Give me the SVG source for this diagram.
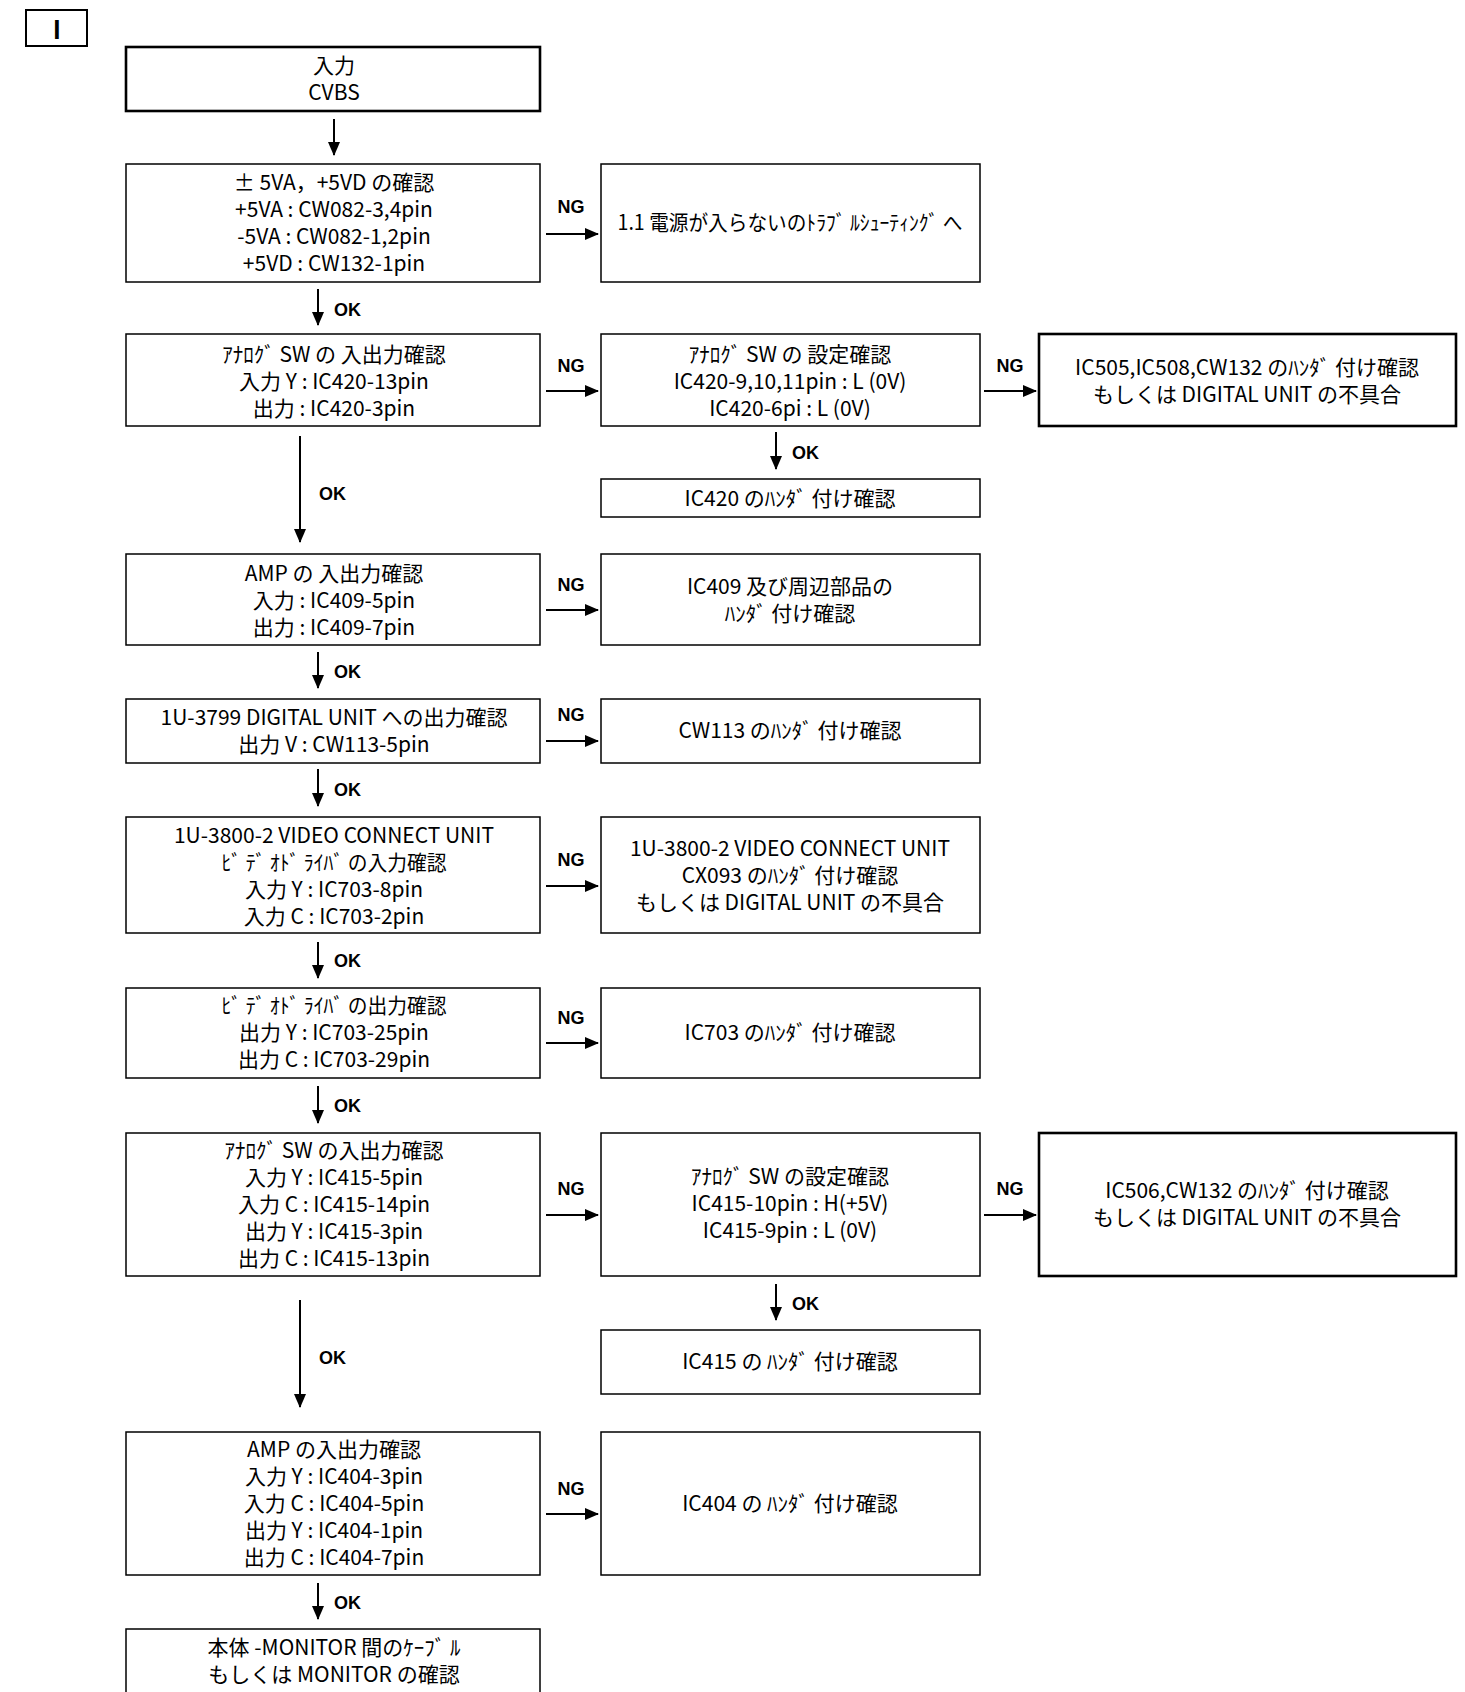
<svg xmlns="http://www.w3.org/2000/svg" width="1465" height="1692" viewBox="0 0 1465 1692">
<style>
.box{fill:#fff;stroke:#000;stroke-width:1.5}
.thick{stroke-width:2.6}
.t{font-family:"Noto Sans CJK JP","Noto Sans",sans-serif;font-size:21px;text-anchor:middle;dominant-baseline:central;fill:#000}
.lbl{font-family:"Liberation Sans",Arial,sans-serif;font-weight:bold;font-size:18px;dominant-baseline:central;fill:#000}
.ng{text-anchor:middle}
.c{stroke:#000;stroke-width:2;fill:none;marker-end:url(#ah)}
</style>
<defs>
<marker id="ah" markerUnits="userSpaceOnUse" markerWidth="14" markerHeight="12" refX="13" refY="6" orient="auto">
<path d="M0,0 L14,6 L0,12 z" fill="#000"/>
</marker>
</defs>
<rect width="1465" height="1692" fill="#fff"/>

<g id="connectors">
<line class="c" x1="334" y1="119" x2="334" y2="155"/>
<line class="c" x1="546" y1="234" x2="598" y2="234"/><text class="lbl ng" x="571" y="207">NG</text>
<line class="c" x1="318" y1="289" x2="318" y2="325"/><text class="lbl" x="334" y="310">OK</text>
<line class="c" x1="546" y1="391" x2="598" y2="391"/><text class="lbl ng" x="571" y="366">NG</text>
<line class="c" x1="984" y1="391" x2="1036" y2="391"/><text class="lbl ng" x="1010" y="366">NG</text>
<line class="c" x1="776" y1="432" x2="776" y2="469"/><text class="lbl" x="792" y="453">OK</text>
<line class="c" x1="300" y1="436" x2="300" y2="542"/><text class="lbl" x="319" y="494">OK</text>
<line class="c" x1="546" y1="610" x2="598" y2="610"/><text class="lbl ng" x="571" y="585">NG</text>
<line class="c" x1="318" y1="652" x2="318" y2="688"/><text class="lbl" x="334" y="672">OK</text>
<line class="c" x1="546" y1="741" x2="598" y2="741"/><text class="lbl ng" x="571" y="715">NG</text>
<line class="c" x1="318" y1="769" x2="318" y2="806"/><text class="lbl" x="334" y="790">OK</text>
<line class="c" x1="546" y1="886" x2="598" y2="886"/><text class="lbl ng" x="571" y="860">NG</text>
<line class="c" x1="318" y1="942" x2="318" y2="978"/><text class="lbl" x="334" y="961">OK</text>
<line class="c" x1="546" y1="1043" x2="598" y2="1043"/><text class="lbl ng" x="571" y="1018">NG</text>
<line class="c" x1="318" y1="1086" x2="318" y2="1123"/><text class="lbl" x="334" y="1106">OK</text>
<line class="c" x1="546" y1="1215" x2="598" y2="1215"/><text class="lbl ng" x="571" y="1189">NG</text>
<line class="c" x1="984" y1="1215" x2="1036" y2="1215"/><text class="lbl ng" x="1010" y="1189">NG</text>
<line class="c" x1="776" y1="1284" x2="776" y2="1320"/><text class="lbl" x="792" y="1304">OK</text>
<line class="c" x1="300" y1="1300" x2="300" y2="1407"/><text class="lbl" x="319" y="1358">OK</text>
<line class="c" x1="546" y1="1514" x2="598" y2="1514"/><text class="lbl ng" x="571" y="1489">NG</text>
<line class="c" x1="318" y1="1583" x2="318" y2="1619"/><text class="lbl" x="334" y="1603">OK</text>
</g>

<g id="n0"><rect class="box" x="26" y="10" width="61" height="36" style="stroke-width:2"/><text class="t" x="57" y="28" style="font-size:25px;font-weight:bold">I</text></g>

<g id="n1"><rect class="box thick" x="126" y="47" width="414" height="64"/>
<text class="t" x="334" y="63.5">入力</text><text class="t" x="334" y="90.5">CVBS</text></g>

<g id="n2"><rect class="box" x="126" y="164" width="414" height="118"/>
<text class="t" x="334" y="181">± 5VA，+5VD の確認</text>
<text class="t" x="334" y="208">+5VA : CW082-3,4pin</text>
<text class="t" x="334" y="235">-5VA : CW082-1,2pin</text>
<text class="t" x="334" y="262">+5VD : CW132-1pin</text></g>

<g id="n2ng"><rect class="box" x="601" y="164" width="379" height="118"/>
<text class="t" x="790" y="221" textLength="345" lengthAdjust="spacingAndGlyphs">1.1 電源が入らないのﾄﾗﾌﾞ ﾙｼｭｰﾃｨﾝｸﾞ へ</text></g>

<g id="n3"><rect class="box" x="126" y="334" width="414" height="92"/>
<text class="t" x="334" y="352.5">ｱﾅﾛｸﾞ SW の 入出力確認</text>
<text class="t" x="334" y="379.5">入力 Y : IC420-13pin</text>
<text class="t" x="334" y="406.5">出力 : IC420-3pin</text></g>

<g id="n3ng"><rect class="box" x="601" y="334" width="379" height="92"/>
<text class="t" x="790" y="352.5">ｱﾅﾛｸﾞ SW の 設定確認</text>
<text class="t" x="790" y="379.5">IC420-9,10,11pin : L (0V)</text>
<text class="t" x="790" y="406.5">IC420-6pi : L (0V)</text></g>

<g id="n3ng2"><rect class="box thick" x="1039" y="334" width="417" height="92"/>
<text class="t" x="1247" y="366">IC505,IC508,CW132 のﾊﾝﾀﾞ 付け確認</text>
<text class="t" x="1247" y="393">もしくは DIGITAL UNIT の不具合</text></g>

<g id="n3ok"><rect class="box" x="601" y="479" width="379" height="38"/>
<text class="t" x="790" y="497">IC420 のﾊﾝﾀﾞ 付け確認</text></g>

<g id="n4"><rect class="box" x="126" y="554" width="414" height="91"/>
<text class="t" x="334" y="571.5">AMP の 入出力確認</text>
<text class="t" x="334" y="598.5">入力 : IC409-5pin</text>
<text class="t" x="334" y="625.5">出力 : IC409-7pin</text></g>

<g id="n4ng"><rect class="box" x="601" y="554" width="379" height="91"/>
<text class="t" x="790" y="585">IC409 及び周辺部品の</text>
<text class="t" x="790" y="612">ﾊﾝﾀﾞ 付け確認</text></g>

<g id="n5"><rect class="box" x="126" y="699" width="414" height="64"/>
<text class="t" x="334" y="715.5">1U-3799 DIGITAL UNIT への出力確認</text>
<text class="t" x="334" y="742.5">出力 V : CW113-5pin</text></g>

<g id="n5ng"><rect class="box" x="601" y="699" width="379" height="64"/>
<text class="t" x="790" y="729">CW113 のﾊﾝﾀﾞ 付け確認</text></g>

<g id="n6"><rect class="box" x="126" y="817" width="414" height="116"/>
<text class="t" x="334" y="833.5">1U-3800-2 VIDEO CONNECT UNIT</text>
<text class="t" x="334" y="860.5" textLength="225" lengthAdjust="spacingAndGlyphs">ﾋﾞ ﾃﾞ ｵﾄﾞ ﾗｲﾊﾞ の入力確認</text>
<text class="t" x="334" y="887.5">入力 Y : IC703-8pin</text>
<text class="t" x="334" y="914.5">入力 C : IC703-2pin</text></g>

<g id="n6ng"><rect class="box" x="601" y="817" width="379" height="116"/>
<text class="t" x="790" y="846.5">1U-3800-2 VIDEO CONNECT UNIT</text>
<text class="t" x="790" y="873.5">CX093 のﾊﾝﾀﾞ 付け確認</text>
<text class="t" x="790" y="900.5">もしくは DIGITAL UNIT の不具合</text></g>

<g id="n7"><rect class="box" x="126" y="988" width="414" height="90"/>
<text class="t" x="334" y="1003.5" textLength="225" lengthAdjust="spacingAndGlyphs">ﾋﾞ ﾃﾞ ｵﾄﾞ ﾗｲﾊﾞ の出力確認</text>
<text class="t" x="334" y="1030.5">出力 Y : IC703-25pin</text>
<text class="t" x="334" y="1057.5">出力 C : IC703-29pin</text></g>

<g id="n7ng"><rect class="box" x="601" y="988" width="379" height="90"/>
<text class="t" x="790" y="1031">IC703 のﾊﾝﾀﾞ 付け確認</text></g>

<g id="n8"><rect class="box" x="126" y="1133" width="414" height="143"/>
<text class="t" x="334" y="1148.5">ｱﾅﾛｸﾞ SW の入出力確認</text>
<text class="t" x="334" y="1175.5">入力 Y : IC415-5pin</text>
<text class="t" x="334" y="1202.5">入力 C : IC415-14pin</text>
<text class="t" x="334" y="1229.5">出力 Y : IC415-3pin</text>
<text class="t" x="334" y="1256.5">出力 C : IC415-13pin</text></g>

<g id="n8ng"><rect class="box" x="601" y="1133" width="379" height="143"/>
<text class="t" x="790" y="1175">ｱﾅﾛｸﾞ SW の設定確認</text>
<text class="t" x="790" y="1202">IC415-10pin : H(+5V)</text>
<text class="t" x="790" y="1229">IC415-9pin : L (0V)</text></g>

<g id="n8ng2"><rect class="box thick" x="1039" y="1133" width="417" height="143"/>
<text class="t" x="1247" y="1189">IC506,CW132 のﾊﾝﾀﾞ 付け確認</text>
<text class="t" x="1247" y="1216">もしくは DIGITAL UNIT の不具合</text></g>

<g id="n8ok"><rect class="box" x="601" y="1330" width="379" height="64"/>
<text class="t" x="790" y="1360">IC415 の ﾊﾝﾀﾞ 付け確認</text></g>

<g id="n9"><rect class="box" x="126" y="1432" width="414" height="143"/>
<text class="t" x="334" y="1447.5">AMP の入出力確認</text>
<text class="t" x="334" y="1474.5">入力 Y : IC404-3pin</text>
<text class="t" x="334" y="1501.5">入力 C : IC404-5pin</text>
<text class="t" x="334" y="1528.5">出力 Y : IC404-1pin</text>
<text class="t" x="334" y="1555.5">出力 C : IC404-7pin</text></g>

<g id="n9ng"><rect class="box" x="601" y="1432" width="379" height="143"/>
<text class="t" x="790" y="1502">IC404 の ﾊﾝﾀﾞ 付け確認</text></g>

<g id="n10"><rect class="box" x="126" y="1629" width="414" height="80"/>
<text class="t" x="334" y="1645.5">本体 -MONITOR 間のｹｰﾌﾞ ﾙ</text>
<text class="t" x="334" y="1672.5">もしくは MONITOR の確認</text></g>
</svg>
